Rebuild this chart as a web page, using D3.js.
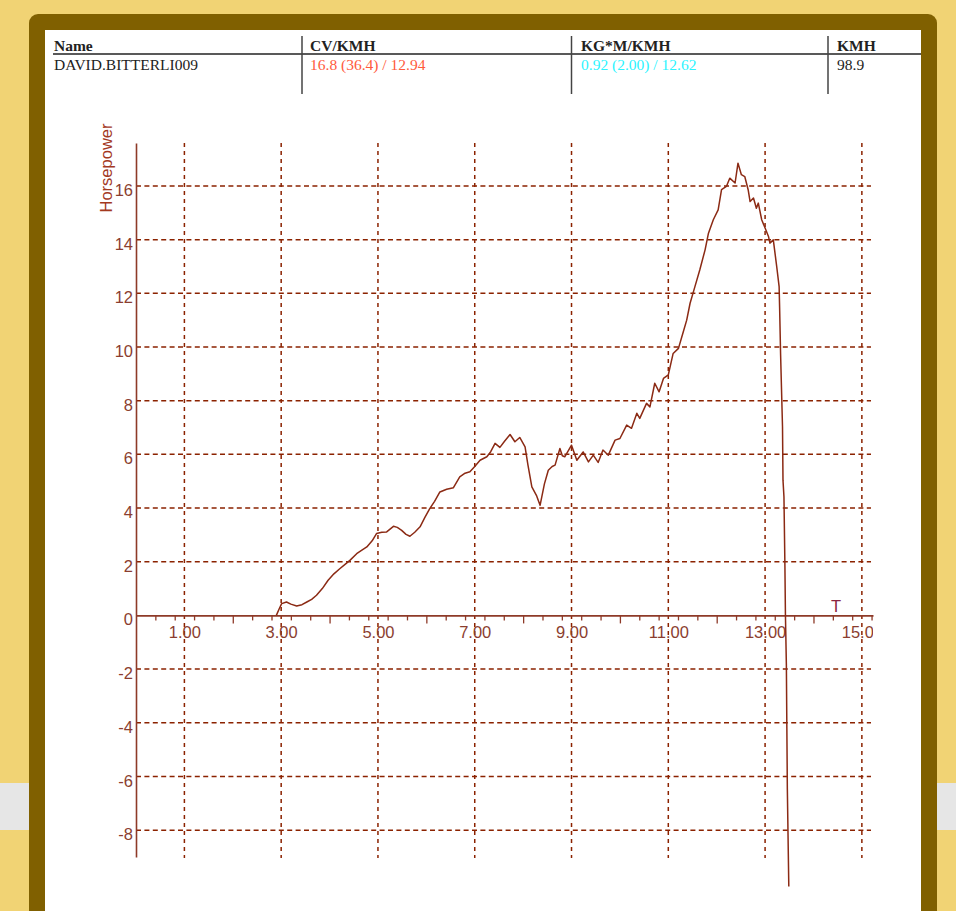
<!DOCTYPE html>
<html>
<head>
<meta charset="utf-8">
<script src="https://cdn.jsdelivr.net/npm/d3@7/dist/d3.min.js"></script>
<style>
  html, body { margin: 0; padding: 0; background: #F1D374; }
  svg { display: block; }
</style>
</head>
<body>
<script>
// ---------- data ----------
const headerTitles = ["Name", "CV/KMH", "KG*M/KMH", "KMH"];
const headerValues = ["DAVID.BITTERLI009", "16.8 (36.4) / 12.94", "0.92 (2.00) / 12.62", "98.9"];
const headerColors = ["#222222", "#FF5A3C", "#2CF4FF", "#222222"];

const tSeconds = [2.90, 2.96, 3.01, 3.11, 3.20, 3.32, 3.43, 3.53, 3.63, 3.73, 3.85, 3.97, 4.09, 4.21, 4.32, 4.42,
  4.56, 4.66, 4.77, 4.88, 4.97, 5.08, 5.18, 5.32, 5.40, 5.49, 5.58, 5.66, 5.76, 5.87, 5.97, 6.07, 6.17, 6.28,
  6.42, 6.56, 6.69, 6.80, 6.90, 7.00, 7.11, 7.25, 7.33, 7.42, 7.52, 7.62, 7.73, 7.83, 7.93, 8.04, 8.10, 8.18,
  8.28, 8.35, 8.44, 8.52, 8.60, 8.66, 8.76, 8.81, 8.86, 9.00, 9.11, 9.24, 9.35, 9.45, 9.55, 9.65, 9.76, 9.90,
  10.00, 10.14, 10.24, 10.35, 10.41, 10.55, 10.62, 10.72, 10.81, 10.90, 11.00, 11.10, 11.21, 11.31, 11.38,
  11.45, 11.55, 11.65, 11.76, 11.83, 11.93, 12.03, 12.10, 12.20, 12.27, 12.38, 12.44, 12.51, 12.58, 12.65,
  12.69, 12.76, 12.82, 12.86, 12.93, 13.00, 13.07, 13.10, 13.17, 13.24, 13.29, 13.30, 13.32, 13.36, 13.37,
  13.39, 13.41, 13.42, 13.44, 13.45, 13.46, 13.49];
const horsepower = [0.00, 0.25, 0.44, 0.50, 0.42, 0.35, 0.40, 0.50, 0.60, 0.75, 1.00, 1.31, 1.55, 1.74, 1.90, 2.05,
  2.30, 2.42, 2.55, 2.78, 3.05, 3.10, 3.11, 3.32, 3.28, 3.17, 3.02, 2.95, 3.10, 3.30, 3.65, 3.98, 4.25, 4.60,
  4.70, 4.76, 5.16, 5.30, 5.35, 5.55, 5.78, 5.91, 6.10, 6.41, 6.26, 6.50, 6.74, 6.47, 6.63, 6.28, 5.60, 4.79,
  4.45, 4.10, 4.90, 5.41, 5.55, 5.60, 6.22, 5.95, 5.91, 6.34, 5.78, 6.09, 5.72, 5.97, 5.70, 6.16, 5.97, 6.53,
  6.59, 7.09, 6.97, 7.53, 7.34, 7.90, 7.77, 8.65, 8.33, 8.83, 8.96, 9.76, 9.95, 10.57, 11.00,
  11.63, 12.25, 12.87, 13.62, 14.24, 14.74, 15.11, 15.86, 15.98, 16.29, 16.11, 16.85, 16.42, 16.35, 15.86,
  15.42, 15.55, 15.17, 15.36, 14.74, 14.43, 14.12, 13.87, 13.99, 13.00, 12.25, 11.50, 9.76, 7.03, 5.04,
  4.41, 1.80, 0.06, -1.87, -4.20, -6.47, -10.10];

const yTickValues = [-8, -6, -4, -2, 0, 2, 4, 6, 8, 10, 12, 14, 16];
const xLabelValues = [1, 3, 5, 7, 9, 11, 13, 15];
const xMajorTicks = [2, 4, 6, 8, 10, 12, 14];
const xMinorStep = 0.4;
const xDomain = [0, 15.23];
const yDomain = [-9, 17.6];

// ---------- layout ----------
const W = 956, H = 911;
const plot = { left: 136, right: 873, top: 143, bottom: 857 };

const svg = d3.select("body").append("svg").attr("width", W).attr("height", H);

// page background
svg.append("rect").attr("x", 0).attr("y", 0).attr("width", W).attr("height", H).attr("fill", "#F1D374");
svg.append("rect").attr("x", 0).attr("y", 783).attr("width", W).attr("height", 47).attr("fill", "#E6E6E6");
svg.append("rect").attr("x", 29).attr("y", 14).attr("width", 908).attr("height", H + 20)
  .attr("rx", 9).attr("fill", "#806000");
svg.append("rect").attr("x", 45).attr("y", 30).attr("width", 876).attr("height", H).attr("fill", "#FFFFFF");

// ---------- header table ----------
const colX = [54, 310, 581, 837];
const sepX = [302, 571.5, 828];
const head = svg.append("g").attr("font-family", "'Liberation Serif', 'Times New Roman', serif");
head.append("line").attr("x1", 53).attr("x2", 921).attr("y1", 54).attr("y2", 54)
  .attr("stroke", "#222").attr("stroke-width", 1.6);
head.selectAll("line.sep").data(sepX).join("line").attr("class", "sep")
  .attr("x1", d => d).attr("x2", d => d).attr("y1", 36).attr("y2", 94)
  .attr("stroke", "#444").attr("stroke-width", 1.5);
head.selectAll("text.t").data(headerTitles).join("text").attr("class", "t")
  .attr("x", (d, i) => colX[i]).attr("y", 50.5)
  .attr("font-size", 15.5).attr("font-weight", "bold").attr("fill", "#222").text(d => d);
head.selectAll("text.v").data(headerValues).join("text").attr("class", "v")
  .attr("x", (d, i) => colX[i]).attr("y", 70)
  .attr("font-size", 15.5).attr("fill", (d, i) => headerColors[i]).text(d => d);

// ---------- scales ----------
const x = d3.scaleLinear().domain(xDomain).range([plot.left, plot.right]);
const y = d3.scaleLinear().domain(yDomain).range([plot.bottom, plot.top]);

const gridColor = "#8B2200";
const axisColor = "#8E3A28";
const labelColor = "#8B3E2F";
const fontFam = "'Liberation Sans', Arial, sans-serif";

// gridlines
svg.append("g").selectAll("line").data(yTickValues.filter(v => v !== 0)).join("line")
  .attr("x1", plot.left).attr("x2", 871).attr("y1", d => y(d)).attr("y2", d => y(d))
  .attr("stroke", gridColor).attr("stroke-width", 1.5).attr("stroke-dasharray", "5,3.4");
svg.append("g").selectAll("line").data(xLabelValues).join("line")
  .attr("x1", d => x(d)).attr("x2", d => x(d)).attr("y1", plot.top).attr("y2", 858)
  .attr("stroke", gridColor).attr("stroke-width", 1.5).attr("stroke-dasharray", "4,4");

// x axis: minor ticks + domain
const minorTicks = d3.range(xMinorStep, xDomain[1], xMinorStep).filter(v => Math.abs(v / 2 - Math.round(v / 2)) > 0.01);
const gxMinor = svg.append("g").attr("transform", `translate(0,${y(0)})`)
  .call(d3.axisBottom(x).tickValues(minorTicks).tickSize(5).tickSizeOuter(0).tickFormat(""));
gxMinor.select(".domain").attr("stroke", axisColor).attr("stroke-width", 1.6);
gxMinor.selectAll(".tick line").attr("stroke", axisColor).attr("stroke-width", 1.3);

const gxMajor = svg.append("g").attr("transform", `translate(0,${y(0)})`)
  .call(d3.axisBottom(x).tickValues(xMajorTicks).tickSize(8).tickFormat(""));
gxMajor.select(".domain").remove();
gxMajor.selectAll(".tick line").attr("stroke", axisColor).attr("stroke-width", 1.3);

svg.append("clipPath").attr("id", "labclip").append("rect")
  .attr("x", 0).attr("y", 0).attr("width", plot.right).attr("height", H);
const gxLab = svg.append("g").attr("transform", `translate(0,${y(0)})`).attr("clip-path", "url(#labclip)")
  .call(d3.axisBottom(x).tickValues(xLabelValues).tickSize(0).tickPadding(10.5).tickFormat(d3.format(".2f")));
gxLab.select(".domain").remove();
gxLab.selectAll("text").attr("fill", labelColor).attr("font-size", 16.5).attr("font-family", fontFam);

// y axis
const gy = svg.append("g").attr("transform", `translate(${plot.left},0)`)
  .call(d3.axisLeft(y).tickValues(yTickValues).tickSize(0).tickPadding(3).tickFormat(d => String(d)));
gy.select(".domain").attr("stroke", axisColor).attr("stroke-width", 1.6);
gy.selectAll("text").attr("fill", labelColor).attr("font-size", 16.5).attr("font-family", fontFam).attr("dy", "0.58em");

// axis titles
svg.append("text").attr("transform", `translate(112,168) rotate(-90)`)
  .attr("text-anchor", "middle").attr("font-family", fontFam).attr("font-size", 16.5)
  .attr("fill", "#A3391F").text("Horsepower");
svg.append("text").attr("x", 836).attr("y", 612).attr("text-anchor", "middle")
  .attr("font-family", fontFam).attr("font-size", 16.5).attr("fill", "#8B2540").text("T");

// ---------- curve ----------
const points = tSeconds.map((t, i) => [t, horsepower[i]]);
svg.append("path").datum(points)
  .attr("fill", "none").attr("stroke", "#8B2A14").attr("stroke-width", 1.5).attr("stroke-linejoin", "round")
  .attr("d", d3.line().x(d => x(d[0])).y(d => y(d[1])));
</script>
</body>
</html>
